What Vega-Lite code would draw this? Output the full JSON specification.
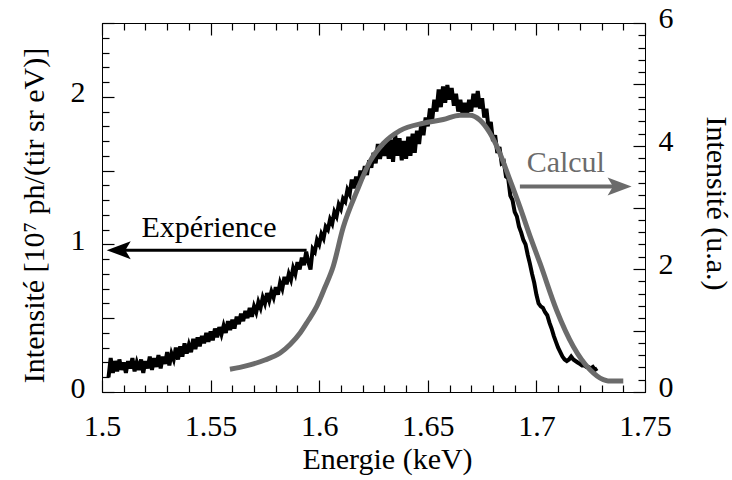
{
  "$schema": "https://vega.github.io/schema/vega-lite/v6.json",
  "width": 543,
  "height": 369,
  "autosize": "none",
  "padding": {"left": 102, "top": 23, "right": 87, "bottom": 88},
  "background": "white",
  "config": {
    "view": {"stroke": "black", "strokeWidth": 1},
    "axis": {
      "labelFont": "Liberation Serif", "labelFontSize": 30, "labelColor": "black",
      "titleFont": "Liberation Serif", "titleFontSize": 30, "titleColor": "black", "titleFontWeight": "normal",
      "domainColor": "black", "tickColor": "black", "tickWidth": 1.2, "grid": false,
      "labelFlush": false, "labelOverlap": false, "labelBound": false
    }
  },
  "datasets": {
    "exp": [
      {"E":1.503,"I":0.10},{"E":1.504,"I":0.23},{"E":1.505,"I":0.13},{"E":1.506,"I":0.21},{"E":1.507,"I":0.14},{"E":1.508,"I":0.22},{"E":1.509,"I":0.15},{"E":1.510,"I":0.20},
      {"E":1.511,"I":0.13},{"E":1.512,"I":0.21},{"E":1.513,"I":0.16},{"E":1.514,"I":0.23},{"E":1.515,"I":0.14},{"E":1.516,"I":0.20},{"E":1.517,"I":0.15},{"E":1.518,"I":0.22},
      {"E":1.519,"I":0.13},{"E":1.520,"I":0.21},{"E":1.521,"I":0.16},{"E":1.522,"I":0.24},{"E":1.523,"I":0.15},{"E":1.524,"I":0.23},{"E":1.525,"I":0.17},{"E":1.526,"I":0.25},
      {"E":1.527,"I":0.16},{"E":1.528,"I":0.24},{"E":1.529,"I":0.19},{"E":1.530,"I":0.27},{"E":1.531,"I":0.18},{"E":1.532,"I":0.26},{"E":1.533,"I":0.22},{"E":1.534,"I":0.30},
      {"E":1.535,"I":0.22},{"E":1.536,"I":0.31},{"E":1.537,"I":0.24},{"E":1.538,"I":0.33},{"E":1.539,"I":0.26},{"E":1.540,"I":0.32},{"E":1.541,"I":0.27},{"E":1.542,"I":0.36},
      {"E":1.543,"I":0.29},{"E":1.544,"I":0.37},{"E":1.545,"I":0.31},{"E":1.546,"I":0.38},{"E":1.547,"I":0.33},{"E":1.548,"I":0.40},{"E":1.549,"I":0.34},{"E":1.550,"I":0.41},
      {"E":1.551,"I":0.35},{"E":1.552,"I":0.43},{"E":1.553,"I":0.37},{"E":1.554,"I":0.44},{"E":1.555,"I":0.39},{"E":1.556,"I":0.45},{"E":1.557,"I":0.40},{"E":1.558,"I":0.48},
      {"E":1.559,"I":0.42},{"E":1.560,"I":0.49},{"E":1.561,"I":0.43},{"E":1.562,"I":0.51},{"E":1.563,"I":0.46},{"E":1.564,"I":0.53},{"E":1.565,"I":0.48},{"E":1.566,"I":0.55},
      {"E":1.567,"I":0.50},{"E":1.568,"I":0.57},{"E":1.569,"I":0.51},{"E":1.570,"I":0.58},{"E":1.571,"I":0.54},{"E":1.572,"I":0.61},{"E":1.573,"I":0.57},{"E":1.574,"I":0.64},
      {"E":1.575,"I":0.60},{"E":1.576,"I":0.67},{"E":1.577,"I":0.62},{"E":1.578,"I":0.68},{"E":1.579,"I":0.64},{"E":1.580,"I":0.71},{"E":1.581,"I":0.66},{"E":1.582,"I":0.74},
      {"E":1.583,"I":0.70},{"E":1.584,"I":0.78},{"E":1.585,"I":0.73},{"E":1.586,"I":0.80},{"E":1.587,"I":0.76},{"E":1.588,"I":0.84},{"E":1.589,"I":0.80},{"E":1.590,"I":0.88},
      {"E":1.591,"I":0.83},{"E":1.592,"I":0.91},{"E":1.593,"I":0.86},{"E":1.594,"I":0.95},{"E":1.595,"I":0.88},{"E":1.596,"I":0.83},{"E":1.597,"I":0.97},{"E":1.598,"I":0.95},
      {"E":1.599,"I":1.03},{"E":1.600,"I":1.00},{"E":1.601,"I":1.07},{"E":1.602,"I":1.04},{"E":1.603,"I":1.12},{"E":1.604,"I":1.10},{"E":1.605,"I":1.17},{"E":1.606,"I":1.14},
      {"E":1.607,"I":1.22},{"E":1.608,"I":1.19},{"E":1.609,"I":1.27},{"E":1.610,"I":1.24},{"E":1.611,"I":1.31},{"E":1.612,"I":1.29},{"E":1.613,"I":1.37},{"E":1.614,"I":1.34},
      {"E":1.615,"I":1.44},{"E":1.616,"I":1.38},{"E":1.617,"I":1.46},{"E":1.618,"I":1.40},{"E":1.619,"I":1.50},{"E":1.620,"I":1.45},{"E":1.621,"I":1.53},{"E":1.622,"I":1.47},
      {"E":1.623,"I":1.57},{"E":1.624,"I":1.52},{"E":1.625,"I":1.62},{"E":1.626,"I":1.55},{"E":1.627,"I":1.68},{"E":1.628,"I":1.58},{"E":1.629,"I":1.66},{"E":1.630,"I":1.60},
      {"E":1.631,"I":1.70},{"E":1.632,"I":1.58},{"E":1.633,"I":1.71},{"E":1.634,"I":1.56},{"E":1.635,"I":1.74},{"E":1.636,"I":1.60},{"E":1.637,"I":1.72},{"E":1.638,"I":1.57},
      {"E":1.639,"I":1.70},{"E":1.640,"I":1.58},{"E":1.641,"I":1.73},{"E":1.642,"I":1.60},{"E":1.643,"I":1.75},{"E":1.644,"I":1.62},{"E":1.645,"I":1.77},{"E":1.646,"I":1.68},
      {"E":1.647,"I":1.82},{"E":1.648,"I":1.74},{"E":1.649,"I":1.86},{"E":1.650,"I":1.80},{"E":1.651,"I":1.92},{"E":1.652,"I":1.84},{"E":1.653,"I":1.98},{"E":1.654,"I":1.90},
      {"E":1.655,"I":2.05},{"E":1.656,"I":1.93},{"E":1.657,"I":2.07},{"E":1.658,"I":1.96},{"E":1.659,"I":2.08},{"E":1.660,"I":1.98},{"E":1.661,"I":2.06},{"E":1.662,"I":1.94},
      {"E":1.663,"I":2.02},{"E":1.664,"I":1.90},{"E":1.665,"I":1.98},{"E":1.666,"I":1.88},{"E":1.667,"I":1.96},{"E":1.668,"I":1.87},{"E":1.669,"I":1.98},{"E":1.670,"I":1.90},
      {"E":1.671,"I":2.02},{"E":1.672,"I":1.93},{"E":1.673,"I":2.04},{"E":1.674,"I":1.92},{"E":1.675,"I":1.99},{"E":1.676,"I":1.86},{"E":1.677,"I":1.92},{"E":1.678,"I":1.78},
      {"E":1.679,"I":1.83},{"E":1.680,"I":1.70},{"E":1.681,"I":1.74},{"E":1.682,"I":1.62},{"E":1.683,"I":1.66},{"E":1.684,"I":1.55},{"E":1.685,"I":1.56},{"E":1.686,"I":1.46},
      {"E":1.687,"I":1.45},{"E":1.688,"I":1.33},{"E":1.689,"I":1.30},{"E":1.690,"I":1.22},{"E":1.691,"I":1.19},{"E":1.692,"I":1.12},{"E":1.693,"I":1.08},{"E":1.694,"I":1.03},
      {"E":1.695,"I":1.00},{"E":1.696,"I":0.93},{"E":1.697,"I":0.87},{"E":1.698,"I":0.80},{"E":1.699,"I":0.74},{"E":1.700,"I":0.66},{"E":1.701,"I":0.60},{"E":1.702,"I":0.58},
      {"E":1.703,"I":0.57},{"E":1.704,"I":0.54},{"E":1.705,"I":0.52},{"E":1.706,"I":0.47},{"E":1.707,"I":0.43},{"E":1.708,"I":0.38},{"E":1.709,"I":0.34},{"E":1.710,"I":0.30},
      {"E":1.711,"I":0.27},{"E":1.712,"I":0.24},{"E":1.713,"I":0.22},{"E":1.714,"I":0.21},{"E":1.715,"I":0.22},{"E":1.716,"I":0.24},{"E":1.717,"I":0.22},{"E":1.718,"I":0.21},
      {"E":1.719,"I":0.20},{"E":1.720,"I":0.19},{"E":1.721,"I":0.18},{"E":1.722,"I":0.18},{"E":1.723,"I":0.17},{"E":1.724,"I":0.17},{"E":1.725,"I":0.16},{"E":1.726,"I":0.17},
      {"E":1.727,"I":0.15},{"E":1.728,"I":0.16}
    ],
    "calc": [
      {"E":1.5589,"I":0.37},{"E":1.5635,"I":0.40},{"E":1.5681,"I":0.44},{"E":1.575,"I":0.52},{"E":1.582,"I":0.634},{"E":1.5866,"I":0.772},
      {"E":1.5912,"I":0.959},{"E":1.5948,"I":1.154},{"E":1.5988,"I":1.387},{"E":1.6027,"I":1.707},{"E":1.6064,"I":2.037},{"E":1.611,"I":2.67},
      {"E":1.6174,"I":3.27},{"E":1.6234,"I":3.75},{"E":1.6295,"I":4.04},{"E":1.6372,"I":4.25},{"E":1.6479,"I":4.37},{"E":1.6571,"I":4.43},
      {"E":1.6648,"I":4.50},{"E":1.6694,"I":4.50},{"E":1.674,"I":4.42},{"E":1.6786,"I":4.21},{"E":1.6832,"I":3.88},{"E":1.6878,"I":3.45},
      {"E":1.6924,"I":3.01},{"E":1.6971,"I":2.53},{"E":1.7017,"I":2.09},{"E":1.7093,"I":1.33},{"E":1.717,"I":0.74},{"E":1.7247,"I":0.36},
      {"E":1.7308,"I":0.2},{"E":1.733,"I":0.18},{"E":1.740,"I":0.18}
    ],
    "blackShaft": [{"x": 1.509, "x2": 1.5942, "y": 0.961}],
    "grayShaft": [{"x": 1.6924, "x2": 1.7366, "y": 3.34}],
    "blackHead": [{"x": 1.5077, "y": 0.961}],
    "grayHead": [{"x": 1.7383, "y": 3.34}],
    "blackText": [{"x": 1.5182, "y": 1.051, "label": "Expérience"}],
    "grayText": [{"x": 1.6955, "y": 3.58, "label": "Calcul"}]
  },
  "layer": [
    {
      "data": {"name": "exp"},
      "mark": {"type": "line", "color": "black", "strokeWidth": 4},
      "encoding": {
        "x": {"field": "E", "type": "quantitative", "scale": {"domain": [1.5, 1.75], "nice": false, "zero": false},
              "axis": {"orient": "bottom", "values": [1.5, 1.55, 1.6, 1.65, 1.7, 1.75], "format": "~g", "ticks": false, "labelPadding": 19,
                       "title": "Energie (keV)", "titleBaseline": "alphabetic", "titleX": 285, "titleY": 76, "titleAlign": "center", "titleAnchor": "middle"}},
        "y": {"field": "I", "type": "quantitative", "scale": {"domain": [0, 2.5], "nice": false, "zero": false},
              "axis": {"orient": "left", "values": [0, 1, 2], "format": "~g", "ticks": false, "labelPadding": 17, "labelOffset": -4,
                       "title": "Intensité [10⁷ ph/(tir sr eV)]", "titleAngle": 270, "titleBaseline": "alphabetic", "titleX": -59, "titleY": 192, "titleAlign": "center"}}
      }
    },
    {
      "data": {"name": "calc"},
      "mark": {"type": "line", "color": "#6b6b6b", "strokeWidth": 5, "interpolate": "monotone"},
      "encoding": {
        "x": {"field": "E", "type": "quantitative", "scale": {"domain": [1.5, 1.75], "nice": false, "zero": false},
              "axis": {"orient": "top", "values": [1.5, 1.55, 1.6, 1.65, 1.7, 1.75], "offset": -12, "tickSize": 12, "domain": false, "labels": false, "title": null}},
        "y": {"field": "I", "type": "quantitative", "scale": {"domain": [0, 6], "nice": false, "zero": false},
              "axis": {"orient": "right", "values": [0, 2, 4, 6], "format": "~g", "ticks": false, "labelPadding": 13, "labelOffset": -5,
                       "title": "Intensité (u.a.)", "titleAngle": 90, "titleBaseline": "alphabetic", "titleX": 61, "titleY": 180, "titleAlign": "center"}}
      }
    },
    {
      "data": {"name": "blackShaft"},
      "mark": {"type": "rule", "color": "black", "strokeWidth": 3},
      "encoding": {
        "x": {"field": "x", "type": "quantitative", "scale": {"domain": [1.5, 1.75], "nice": false, "zero": false},
              "axis": {"orient": "bottom", "values": [1.5, 1.55, 1.6, 1.65, 1.7, 1.75], "offset": -12, "tickSize": 12, "domain": false, "labels": false, "title": null}},
        "x2": {"field": "x2"},
        "y": {"field": "y", "type": "quantitative", "scale": {"domain": [0, 2.5], "nice": false, "zero": false},
              "axis": {"orient": "left", "values": [0, 0.5, 1, 1.5, 2, 2.5], "offset": -12, "tickSize": 12, "domain": false, "labels": false, "title": null}}
      }
    },
    {
      "data": {"name": "blackHead"},
      "mark": {"type": "point", "shape": "M-1,0L1,-0.75L0.55,0L1,0.75Z", "filled": true, "color": "black", "size": 576, "opacity": 1},
      "encoding": {
        "x": {"field": "x", "type": "quantitative", "scale": {"domain": [1.5, 1.75], "nice": false, "zero": false},
              "axis": {"orient": "bottom", "values": [1.51,1.52,1.53,1.54,1.56,1.57,1.58,1.59,1.61,1.62,1.63,1.64,1.66,1.67,1.68,1.69,1.71,1.72,1.73,1.74], "offset": -7, "tickSize": 7, "labels": false, "domain": false, "title": null}},
        "y": {"field": "y", "type": "quantitative", "scale": {"domain": [0, 2.5], "nice": false, "zero": false},
              "axis": {"orient": "left", "values": [0.1,0.2,0.3,0.4,0.6,0.7,0.8,0.9,1.1,1.2,1.3,1.4,1.6,1.7,1.8,1.9,2.1,2.2,2.3,2.4], "offset": -7, "tickSize": 7, "labels": false, "domain": false, "title": null}}
      }
    },
    {
      "data": {"name": "blackText"},
      "mark": {"type": "text", "font": "Liberation Serif", "fontSize": 30, "color": "black", "align": "left", "baseline": "alphabetic"},
      "encoding": {
        "x": {"field": "x", "type": "quantitative", "scale": {"domain": [1.5, 1.75], "nice": false, "zero": false}, "axis": null},
        "y": {"field": "y", "type": "quantitative", "scale": {"domain": [0, 2.5], "nice": false, "zero": false}, "axis": null},
        "text": {"field": "label"}
      }
    },
    {
      "data": {"name": "grayShaft"},
      "mark": {"type": "rule", "color": "#6b6b6b", "strokeWidth": 4},
      "encoding": {
        "x": {"field": "x", "type": "quantitative", "scale": {"domain": [1.5, 1.75], "nice": false, "zero": false},
              "axis": {"orient": "top", "values": [1.51,1.52,1.53,1.54,1.56,1.57,1.58,1.59,1.61,1.62,1.63,1.64,1.66,1.67,1.68,1.69,1.71,1.72,1.73,1.74], "offset": -7, "tickSize": 7, "labels": false, "domain": false, "title": null}},
        "x2": {"field": "x2"},
        "y": {"field": "y", "type": "quantitative", "scale": {"domain": [0, 6], "nice": false, "zero": false},
              "axis": {"orient": "right", "values": [0, 1, 2, 3, 4, 5, 6], "offset": -12, "tickSize": 12, "labels": false, "domain": false, "title": null}}
      }
    },
    {
      "data": {"name": "grayHead"},
      "mark": {"type": "point", "shape": "M1,0L-1,-0.75L-0.55,0L-1,0.75Z", "filled": true, "color": "#6b6b6b", "size": 576, "opacity": 1},
      "encoding": {
        "x": {"field": "x", "type": "quantitative", "scale": {"domain": [1.5, 1.75], "nice": false, "zero": false}, "axis": null},
        "y": {"field": "y", "type": "quantitative", "scale": {"domain": [0, 6], "nice": false, "zero": false},
              "axis": {"orient": "right", "values": [0.2,0.4,0.6,0.8,1.2,1.4,1.6,1.8,2.2,2.4,2.6,2.8,3.2,3.4,3.6,3.8,4.2,4.4,4.6,4.8,5.2,5.4,5.6,5.8], "offset": -7, "tickSize": 7, "labels": false, "domain": false, "title": null}}
      }
    },
    {
      "data": {"name": "grayText"},
      "mark": {"type": "text", "font": "Liberation Serif", "fontSize": 30, "color": "#6b6b6b", "align": "left", "baseline": "alphabetic"},
      "encoding": {
        "x": {"field": "x", "type": "quantitative", "scale": {"domain": [1.5, 1.75], "nice": false, "zero": false}, "axis": null},
        "y": {"field": "y", "type": "quantitative", "scale": {"domain": [0, 6], "nice": false, "zero": false}, "axis": null},
        "text": {"field": "label"}
      }
    }
  ],
  "resolve": {"scale": {"y": "independent"}, "axis": {"x": "independent", "y": "independent"}}
}
